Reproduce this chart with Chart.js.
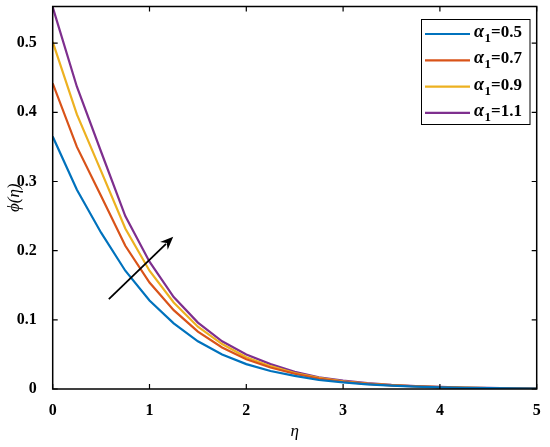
<!DOCTYPE html>
<html>
<head>
<meta charset="utf-8">
<script src="https://cdn.jsdelivr.net/npm/chart.js@4/dist/chart.umd.min.js"></script>
<style>
html, body { margin: 0; background: #fff; }
#wrap { width: 550px; height: 447px; }
</style>
</head>
<body>
<div id="wrap"><canvas id="c"></canvas></div>
<script>
// eta grid and the four profiles
var eta = [0, 0.25, 0.5, 0.75, 1, 1.25, 1.5, 1.75, 2, 2.25, 2.5, 2.75, 3, 3.25, 3.5, 3.75, 4, 4.25, 4.5, 4.75, 5]
var phiA05 = [0.365, 0.288, 0.226, 0.171, 0.128, 0.095, 0.069, 0.050, 0.036, 0.026, 0.019, 0.013, 0.0095, 0.0068, 0.0048, 0.0034, 0.0024, 0.0017, 0.0012, 0.0008, 0.0005]
var phiA07 = [0.442, 0.350, 0.279, 0.207, 0.154, 0.114, 0.083, 0.060, 0.043, 0.031, 0.022, 0.015, 0.0105, 0.0074, 0.0052, 0.0037, 0.0026, 0.0018, 0.0013, 0.0009, 0.0006]
var phiA09 = [0.502, 0.397, 0.315, 0.232, 0.171, 0.125, 0.090, 0.065, 0.046, 0.033, 0.023, 0.016, 0.0112, 0.0079, 0.0056, 0.0040, 0.0028, 0.0019, 0.0014, 0.0010, 0.0007]
var phiA11 = [0.552, 0.437, 0.343, 0.250, 0.184, 0.133, 0.096, 0.069, 0.050, 0.036, 0.025, 0.017, 0.0120, 0.0085, 0.0060, 0.0043, 0.0030, 0.0021, 0.0015, 0.0010, 0.0007]
var alphaVals = ['0.5', '0.7', '0.9', '1.1']
var lineColors = ['#0072BD', '#D95319', '#EDB120', '#7E2F8E']
var xTicks = [0, 1, 2, 3, 4, 5]
var yTicks = [0, 0.1, 0.2, 0.3, 0.4, 0.5]
var arrowFrom = [0.58, 0.130]
var arrowTo = [1.245, 0.220]

var series = [phiA05, phiA07, phiA09, phiA11]
var serif = '"Liberation Serif", "Times New Roman", serif'

function toPoints(ys){
	return ys.map(function(v, i){ return {x: eta[i], y: v} })
}

var datasets = series.map(function(ys, i){
	return {
		label: 'α1=' + alphaVals[i],
		data: toPoints(ys),
		borderColor: lineColors[i],
		borderWidth: 2.2,
		pointRadius: 0,
		tension: 0,
		fill: false
	}
})

// box, inward ticks, arrow and legend, MATLAB style
var framePlugin = {
	id: 'frame',
	afterDatasetsDraw: function(chart){
		var ctx = chart.ctx
		var a = chart.chartArea
		var xs = chart.scales.x, ys = chart.scales.y
		ctx.save()
		ctx.strokeStyle = '#000'
		ctx.lineWidth = 1.5
		ctx.strokeRect(a.left, a.top, a.right - a.left, a.bottom - a.top)

		ctx.lineWidth = 1.2
		ctx.beginPath()
		xTicks.forEach(function(t){
			var px = xs.getPixelForValue(t)
			ctx.moveTo(px, a.bottom); ctx.lineTo(px, a.bottom - 5)
			ctx.moveTo(px, a.top); ctx.lineTo(px, a.top + 5)
		})
		yTicks.forEach(function(t){
			var py = ys.getPixelForValue(t)
			ctx.moveTo(a.left, py); ctx.lineTo(a.left + 5, py)
			ctx.moveTo(a.right, py); ctx.lineTo(a.right - 5, py)
		})
		ctx.stroke()

		// arrow
		var x0 = xs.getPixelForValue(arrowFrom[0]), y0 = ys.getPixelForValue(arrowFrom[1])
		var x1 = xs.getPixelForValue(arrowTo[0]), y1 = ys.getPixelForValue(arrowTo[1])
		var ang = Math.atan2(y1 - y0, x1 - x0)
		var hl = 13, hw = 5.5
		var bx = x1 - hl * Math.cos(ang), by = y1 - hl * Math.sin(ang)
		ctx.lineWidth = 1.8
		ctx.beginPath()
		ctx.moveTo(x0, y0); ctx.lineTo(bx + 3 * Math.cos(ang), by + 3 * Math.sin(ang))
		ctx.stroke()
		ctx.fillStyle = '#000'
		ctx.beginPath()
		ctx.moveTo(x1, y1)
		ctx.lineTo(bx - hw * Math.sin(ang), by + hw * Math.cos(ang))
		ctx.lineTo(bx + 4 * Math.cos(ang), by + 4 * Math.sin(ang))
		ctx.lineTo(bx + hw * Math.sin(ang), by - hw * Math.cos(ang))
		ctx.closePath()
		ctx.fill()

		// legend
		var lx = 421.5, ly = 19.5, lw = 108.5, lh = 105
		ctx.fillStyle = '#fff'
		ctx.fillRect(lx, ly, lw, lh)
		ctx.lineWidth = 1
		ctx.strokeStyle = '#000'
		ctx.strokeRect(lx, ly, lw, lh)
		alphaVals.forEach(function(v, i){
			var base = 37 + i * 26.3
			ctx.strokeStyle = lineColors[i]
			ctx.lineWidth = 2.2
			ctx.beginPath()
			ctx.moveTo(425, base - 3); ctx.lineTo(470, base - 3)
			ctx.stroke()
			ctx.fillStyle = '#000'
			ctx.textBaseline = 'alphabetic'
			ctx.textAlign = 'left'
			var tx = 474
			ctx.font = 'italic bold 18px ' + serif
			ctx.fillText('α', tx, base)
			tx += ctx.measureText('α').width + 0.5
			ctx.font = 'bold 13px ' + serif
			ctx.fillText('1', tx, base + 5)
			tx += ctx.measureText('1').width
			ctx.font = 'bold 17px ' + serif
			ctx.fillText('=' + v, tx, base)
		})
		ctx.restore()
	}
}

var ctx = document.getElementById('c').getContext('2d')
window.phiChart = new Chart(ctx, {
	type: 'line',
	data: { datasets: datasets },
	options: {
		responsive: true,
		maintainAspectRatio: false,
		animation: false,
		layout: { padding: { top: 6.5, right: 13.3, left: 0, bottom: 0 } },
		plugins: { legend: { display: false }, tooltip: { enabled: false } },
		scales: {
			x: {
				type: 'linear',
				min: 0,
				max: 5,
				afterBuildTicks: function(s){ s.ticks = xTicks.map(function(v){ return {value: v} }) },
				afterFit: function(s){ s.height = 58; s.paddingLeft = 0; s.paddingRight = 0 },
				grid: { display: false },
				border: { display: false },
				ticks: {
					color: '#000',
					padding: 4,
					maxRotation: 0,
					font: { family: serif, size: 16, weight: 'bold' },
					callback: function(v){ return String(v) }
				},
				title: {
					display: true,
					text: 'η',
					color: '#000',
					padding: { top: 0, bottom: 5 },
					font: { family: serif, size: 17, style: 'italic' }
				}
			},
			y: {
				min: 0,
				max: 0.553,
				afterBuildTicks: function(s){ s.ticks = yTicks.map(function(v){ return {value: v} }) },
				afterFit: function(s){ s.width = 52.7; s.paddingTop = 0; s.paddingBottom = 0 },
				grid: { display: false },
				border: { display: false },
				ticks: {
					color: '#000',
					padding: 8,
					font: { family: serif, size: 16, weight: 'bold' },
					callback: function(v){ return v === 0 ? '0' : v.toFixed(1) }
				},
				title: {
					display: true,
					text: 'ϕ(η)',
					color: '#000',
					padding: { top: 4, bottom: 0 },
					font: { family: serif, size: 17, style: 'italic' }
				}
			}
		}
	},
	plugins: [framePlugin]
})
</script>
</body>
</html>
